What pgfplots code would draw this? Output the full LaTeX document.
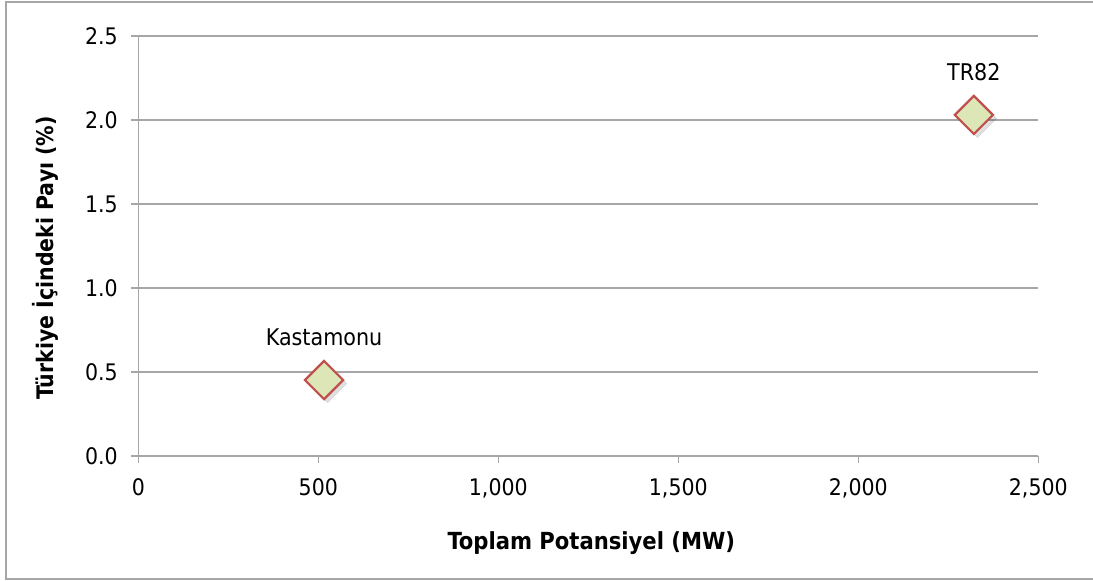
\documentclass[border=0pt]{standalone}
\usepackage{fontspec}
\setmainfont{DejaVu Sans Condensed}
\usepackage{pgfplots}
\pgfplotsset{compat=1.18}
\definecolor{gridc}{HTML}{A6A6A6}
\definecolor{mfill}{HTML}{DCE6B6}
\definecolor{mdraw}{HTML}{C0504D}
\begin{document}
\begin{tikzpicture}
\useasboundingbox (0bp,0bp) rectangle (1093bp,581bp);
\draw[gridc, line width=2bp] (1200bp,2bp) -- (5.5bp,2bp) -- (5.5bp,578.5bp) -- (1200bp,578.5bp);
\begin{axis}[
  at={(138.3bp,125bp)}, anchor=south west,
  scale only axis, width=900bp, height=420bp,
  xmin=0, xmax=2500, ymin=0, ymax=2.5,
  xtick={0,500,...,2500}, ytick={0,0.5,...,2.5},
  axis x line=bottom, axis y line=left,
  axis line style={gridc, line width=1.5bp, -},
  tick style={gridc, line width=1.5bp},
  major tick length=7bp, tick align=outside,
  ymajorgrids, grid style={gridc, line width=1.5bp},
  /pgf/number format/assume math mode=true,
  yticklabel style={/pgf/number format/fixed, /pgf/number format/fixed zerofill, /pgf/number format/precision=1, font=\fontsize{22.8bp}{27bp}\selectfont, xshift=-10bp},
  xticklabel style={/pgf/number format/1000 sep={,}, font=\fontsize{22.8bp}{27bp}\selectfont, yshift=-12bp},
  scaled x ticks=false, scaled y ticks=false,
  xlabel={\bfseries Toplam Potansiyel (MW)},
  ylabel={\bfseries Türkiye İçindeki Payı (\%)},
  xlabel style={font=\fontsize{23.5bp}{28bp}\selectfont, yshift=-27bp, xshift=3bp},
  ylabel style={font=\fontsize{22.8bp}{28bp}\selectfont, yshift=20bp, xshift=-12bp},
  clip=false,
]
% shadow
\addplot[only marks, mark=square*, mark size=13.5bp, mark options={rotate=45, fill=black, draw=none, opacity=0.12, yshift=-5bp}] coordinates {(516,0.452) (2321,2.03)};
\addplot[only marks, mark=square*, mark size=13.5bp, mark options={rotate=45, fill=mfill, draw=mdraw, line width=2.2bp},
  point meta=explicit symbolic, nodes near coords,
  every node near coord/.append style={anchor=center, yshift=43bp, font=\fontsize{23bp}{27bp}\selectfont}]
  table[meta=lab] {
  x y lab
  516 0.452 Kastamonu
  2321 2.03 TR82
};
\end{axis}
\end{tikzpicture}
\end{document}
